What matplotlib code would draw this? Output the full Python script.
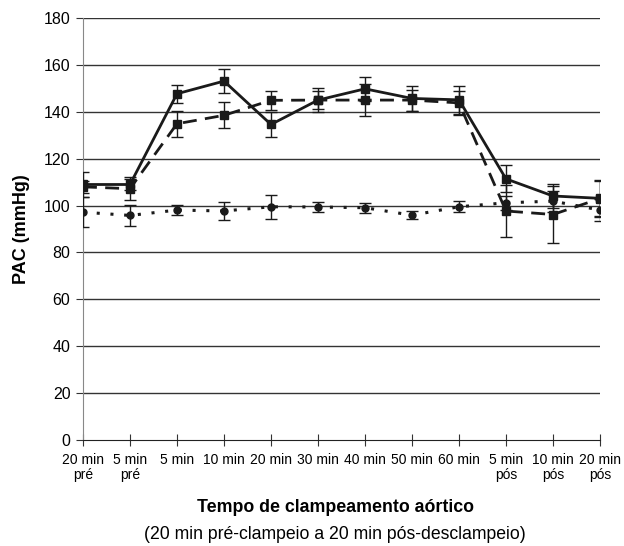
import numpy as np
import matplotlib
matplotlib.use("Agg")
import matplotlib.pyplot as plt

plt.rcParams['font.family'] = ['Liberation Sans', 'DejaVu Sans']

labels = ['20 min\npré', '5 min\npré', '5 min', '10 min', '20 min', '30 min',
          '40 min', '50 min', '60 min', '5 min\npós', '10 min\npós', '20 min\npós']

# solid line (squares)
pac_a = [109, 109, 147.7, 153.1, 134.6, 145, 149.8, 145.7, 145.1, 111.4, 104.1, 103.1]
err_a = [5.5, 2.5, 3.8, 5, 5.5, 5, 5, 5.5, 6, 5.8, 5.2, 7.5]
# dashed line (squares)
pac_b = [108, 107.2, 134.9, 138.5, 144.9, 145, 145, 145, 143.8, 97.7, 96.2, 103]
err_b = [2.5, 5, 5.5, 5.5, 4, 4, 6.8, 4.5, 5, 11, 12.3, 8]
# dotted line (circles)
pac_c = [97.2, 95.8, 98.1, 97.7, 99.5, 99.4, 99.1, 95.9, 99.5, 101.2, 101.9, 98.1]
err_c = [6.5, 4.5, 2, 3.8, 5.2, 2.2, 2.2, 1.8, 2.4, 3, 4.5, 4.7]

x = np.arange(len(labels))

fig = plt.figure(figsize=(6.24, 5.46), dpi=100)
ax = fig.add_axes([0.133, 0.194, 0.8285, 0.773])

for v in range(20, 181, 20):
    ax.axhline(v, color='#333333', lw=1, zorder=1)

ax.errorbar(x, pac_c, yerr=err_c, color='#1a1a1a', ls=(0, (1, 3.5)), lw=2.2,
            marker='o', ms=5, capsize=4, elinewidth=1, capthick=1, zorder=3)
ax.errorbar(x, pac_b, yerr=err_b, color='#1a1a1a', ls=(0, (5, 3)), lw=2,
            marker='s', ms=6, capsize=4, elinewidth=1, capthick=1, zorder=4)
ax.errorbar(x, pac_a, yerr=err_a, color='#1a1a1a', ls='-', lw=2,
            marker='s', ms=6, capsize=4, elinewidth=1, capthick=1, zorder=5)

ax.set_xlim(0, 11)
ax.set_ylim(0, 180)
ax.set_yticks(range(0, 181, 20))
ax.set_xticks(x)
ax.set_xticklabels(labels, fontsize=10, linespacing=1.15)
ax.tick_params(axis='y', labelsize=11.5, length=5, color='#333333', pad=4)
ax.tick_params(axis='x', direction='inout', length=8, color='#333333', pad=5)

for s in ['top', 'right']:
    ax.spines[s].set_visible(False)
ax.spines['left'].set_color('#888888')
ax.spines['bottom'].set_color('#222222')
ax.spines['left'].set_zorder(2)

ax.set_ylabel('PAC (mmHg)', fontsize=13, fontweight='bold', labelpad=10)
fig.text(0.538, 0.0696, 'Tempo de clampeamento aórtico', ha='center', va='center',
         fontsize=12.8, fontweight='bold')
fig.text(0.537, 0.021, '(20 min pré-clampeio a 20 min pós-desclampeio)',
         ha='center', va='center', fontsize=12.7)

fig.savefig('out.png', dpi=100, facecolor='white')
